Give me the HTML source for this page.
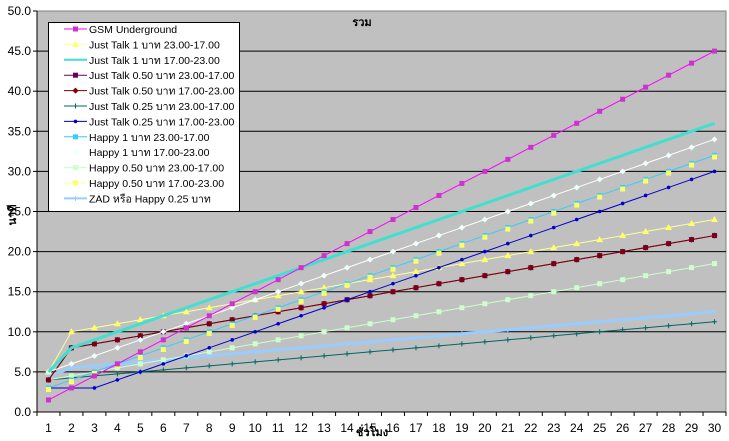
<!DOCTYPE html>
<html><head><meta charset="utf-8">
<style>
body{margin:0;background:#fff;}
svg{display:block;font-family:"Liberation Sans","Noto Sans CJK SC","WenQuanYi Zen Hei",sans-serif;}
</style></head>
<body>
<svg id="chart" width="729" height="441">
<rect x="37" y="11" width="689" height="401" fill="#c0c0c0" stroke="#808080"/>
<g id="grid"></g>
<g id="axes"></g>
<g id="series"></g>
<text x="362" y="26" font-size="11" font-weight="bold" text-anchor="middle">รวม</text>
<text transform="translate(16,215) rotate(-90)" font-size="11" font-weight="bold" text-anchor="middle">นาที</text>
<text x="372" y="436" font-size="11" font-weight="bold" text-anchor="middle">ชั่วโมง</text>
<g id="legend"></g>
</svg>
<script>
const categories=[1,2,3,4,5,6,7,8,9,10,11,12,13,14,15,16,17,18,19,20,21,22,23,24,25,26,27,28,29,30];
const yTicks=[0,5,10,15,20,25,30,35,40,45,50];
const names=["GSM Underground","Just Talk 1 บาท 23.00-17.00","Just Talk 1 บาท 17.00-23.00","Just Talk 0.50 บาท 23.00-17.00","Just Talk 0.50 บาท 17.00-23.00","Just Talk 0.25 บาท 23.00-17.00","Just Talk 0.25 บาท 17.00-23.00","Happy 1 บาท 23.00-17.00","Happy 1 บาท 17.00-23.00","Happy 0.50 บาท 23.00-17.00","Happy 0.50 บาท 17.00-23.00","ZAD หรือ Happy 0.25 บาท"];
const gsm=[1.5,3,4.5,6,7.5,9,10.5,12,13.5,15,16.5,18,19.5,21,22.5,24,25.5,27,28.5,30,31.5,33,34.5,36,37.5,39,40.5,42,43.5,45];
const jt1a=[5,10,10.5,11,11.5,12,12.5,13,13.5,14,14.5,15,15.5,16,16.5,17,17.5,18,18.5,19,19.5,20,20.5,21,21.5,22,22.5,23,23.5,24];
const jt1b=[5,8,9,10,11,12,13,14,15,16,17,18,19,20,21,22,23,24,25,26,27,28,29,30,31,32,33,34,35,36];
const jt050a=[4,8,8.5,9,9.5,10,10.5,11,11.5,12,12.5,13,13.5,14,14.5,15,15.5,16,16.5,17,17.5,18,18.5,19,19.5,20,20.5,21,21.5,22];
const jt050b=[4,8,8.5,9,9.5,10,10.5,11,11.5,12,12.5,13,13.5,14,14.5,15,15.5,16,16.5,17,17.5,18,18.5,19,19.5,20,20.5,21,21.5,22];
const jt025a=[4,4.25,4.5,4.75,5,5.25,5.5,5.75,6,6.25,6.5,6.75,7,7.25,7.5,7.75,8,8.25,8.5,8.75,9,9.25,9.5,9.75,10,10.25,10.5,10.75,11,11.25];
const jt025b=[3,3,3,4,5,6,7,8,9,10,11,12,13,14,15,16,17,18,19,20,21,22,23,24,25,26,27,28,29,30];
const h1a=[3,4,5,6,7,8,9,10,11,12,13,14,15,16,17,18,19,20,21,22,23,24,25,26,27,28,29,30,31,32];
const h1b=[5,6,7,8,9,10,11,12,13,14,15,16,17,18,19,20,21,22,23,24,25,26,27,28,29,30,31,32,33,34];
const h050a=[4,4.5,5,5.5,6,6.5,7,7.5,8,8.5,9,9.5,10,10.5,11,11.5,12,12.5,13,13.5,14,14.5,15,15.5,16,16.5,17,17.5,18,18.5];
const h050b=[2.8,3.8,4.8,5.8,6.8,7.8,8.8,9.8,10.8,11.8,12.8,13.8,14.8,15.8,16.8,17.8,18.8,19.8,20.8,21.8,22.8,23.8,24.8,25.8,26.8,27.8,28.8,29.8,30.8,31.8];
const zad=[4.5,5.5,5.75,6,6.25,6.5,6.75,7,7.25,7.5,7.75,8,8.25,8.5,8.75,9,9.25,9.5,9.75,10,10.25,10.5,10.75,11,11.25,11.5,11.75,12,12.25,12.5];

const NS="http://www.w3.org/2000/svg";
const X0=37,X1=726,Y0=412,Y1=11,YMAX=50;
const band=(X1-X0)/categories.length;
function xs(i){return X0+band*(i+0.5);}
function ys(v){return Y0-(v/YMAX)*(Y0-Y1);}
function mk(tag,attrs,parent){const e=document.createElementNS(NS,tag);for(const k in attrs)e.setAttribute(k,attrs[k]);parent.appendChild(e);return e;}
const grid=document.getElementById('grid'),axes=document.getElementById('axes'),ser=document.getElementById('series'),leg=document.getElementById('legend');
yTicks.forEach(t=>{
  if(t>0&&t<50){const l=mk('line',{x1:X0,x2:X1,y1:ys(t),y2:ys(t),stroke:'#000','stroke-width':1},grid);
  
  }
  const tk=mk('line',{x1:X0-4,x2:X0,y1:ys(t),y2:ys(t),stroke:'#000'},axes);
  
  
  const tx=mk('text',{x:X0-6,y:ys(t)+4,'font-size':12,'text-anchor':'end'},axes);
  tx.textContent=t.toFixed(1);
  
  
});
mk('line',{x1:X0,x2:X0,y1:Y1,y2:Y0,stroke:'#000'},axes);
mk('line',{x1:X0,x2:X1,y1:Y0,y2:Y0,stroke:'#000'},axes);
categories.forEach((c,i)=>{
  const tk=mk('line',{x1:X0+band*i,x2:X0+band*i,y1:Y0,y2:Y0+4,stroke:'#000'},axes);
  
  
  const tx=mk('text',{x:xs(i),y:Y0+20,'font-size':12,'text-anchor':'middle'},axes);
  tx.textContent=c;
  
  
});
mk('line',{x1:X1,x2:X1,y1:Y0,y2:Y0+4,stroke:'#000'},axes);

const series=[
 {d:zad,c:'#99ccff',w:3,m:'plus',mc:'#99ccff',i:11},
 {d:jt025a,c:'#006666',w:1,m:'plus',mc:'#006666',i:5},
 {d:h050a,c:'#ccffcc',w:1,m:'square',mc:'#ccffcc',i:9},
 {d:jt050a,c:'#660066',w:1,m:'square',mc:'#660066',i:3},
 {d:jt050b,c:'#800000',w:1,m:'diamond',mc:'#800000',i:4},
 {d:jt1a,c:'#ffff99',w:1,m:'triangle',mc:'#ffff66',i:1},
 {d:jt025b,c:'#0000cc',w:1,m:'circle',mc:'#0000cc',i:6},
 {d:h1a,c:'#33ccff',w:1,m:'square',mc:'#33ccff',i:7},
 {d:h050b,c:'#ffff99',w:0,m:'square',mc:'#ffff66',i:10},
 {d:h1b,c:'#ffffff',w:1,m:'diamond',mc:'#eeffff',i:8},
 {d:jt1b,c:'#40e0d0',w:3,m:'none',mc:'#40e0d0',i:2},
 {d:gsm,c:'#ff00ff',w:1,m:'square',mc:'#cc33cc',i:0}
];
function marker(g,m,x,y,c){
  if(m==='square')mk('rect',{x:x-2.5,y:y-2.5,width:5,height:5,fill:c},g);
  else if(m==='diamond')mk('polygon',{points:`${x},${y-3} ${x+3},${y} ${x},${y+3} ${x-3},${y}`,fill:c},g);
  else if(m==='triangle')mk('polygon',{points:`${x},${y-3.5} ${x+3.5},${y+2.5} ${x-3.5},${y+2.5}`,fill:c},g);
  else if(m==='circle')mk('circle',{cx:x,cy:y,r:1.8,fill:c},g);
  else if(m==='plus'){mk('line',{x1:x-2.5,x2:x+2.5,y1:y,y2:y,stroke:c},g);mk('line',{x1:x,x2:x,y1:y-2.5,y2:y+2.5,stroke:c},g);}
}
series.forEach(s=>{
  const g=mk('g',{},ser);
  
  
  if(s.w>0)mk('polyline',{points:s.d.map((v,i)=>xs(i)+','+ys(v)).join(' '),fill:'none',stroke:s.c,'stroke-width':s.w},g);
  s.d.forEach((v,i)=>marker(g,s.m,xs(i),ys(v),s.mc));
});
// legend
mk('rect',{x:48.5,y:22.5,width:191,height:189,fill:'#fff',stroke:'#000'},leg);
const bySeries={};series.forEach(s=>bySeries[s.i]=s);
names.forEach((n,k)=>{
  const s=bySeries[k],y=29+k*15.4;
  const g=mk('g',{},leg);
  
  
  mk('line',{x1:64,x2:87,y1:y,y2:y,stroke:s.c,'stroke-width':s.w>2?2:1},g);
  marker(g,s.m,75.5,y,s.mc);
  const t=mk('text',{x:89,y:y+4,'font-size':10.5},g);
  t.textContent=n;
});
</script>
</body></html>
